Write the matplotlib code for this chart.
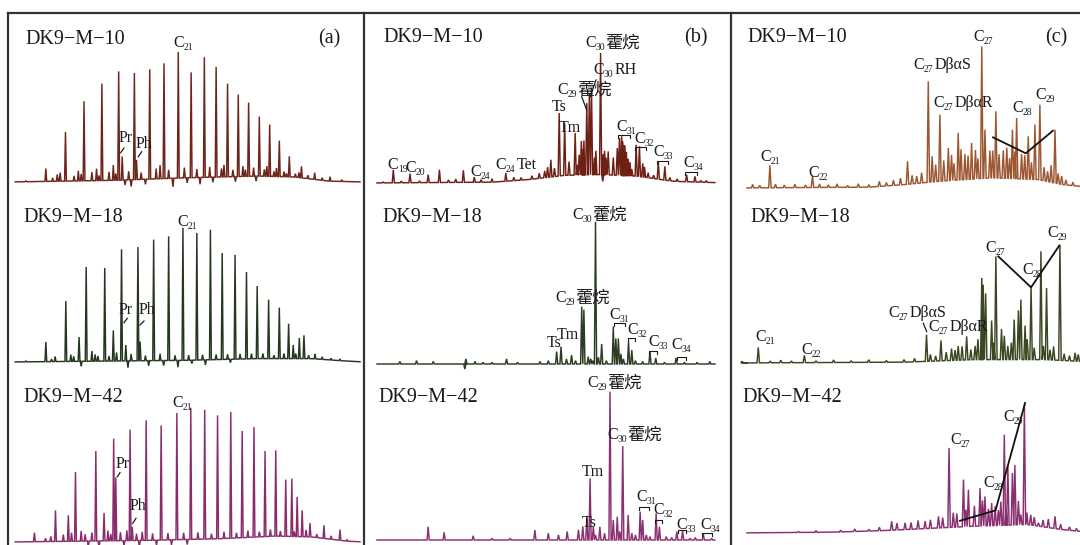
import numpy as np
import matplotlib
matplotlib.use("Agg")
import matplotlib.pyplot as plt

W, H = 1080, 545
SERIF = "Liberation Serif"
CJK = ["Noto Sans CJK SC", "DejaVu Sans"]
TC = "#1a1a1a"

# ---------------- data (retention position 0-100, relative abundance) --------------
# (a) saturated hydrocarbon TIC
a1_x = [10.6, 16.1, 21.3, 26.3, 31.0, 32.0, 35.4, 36.0, 39.7, 43.7, 47.7, 51.3, 55.0, 58.3, 61.5,
        64.5, 67.4, 70.4, 73.3, 76.0, 78.8, 82.2, 85.9, 90.2]
a1_h = [7.9, 29.4, 47.5, 57.9, 65.1, 15.0, 64.1, 13.0, 66.3, 69.8, 76.5, 64.5, 73.4, 67.7, 57.9,
        51.4, 46.7, 38.5, 33.8, 24.3, 15.1, 9.2, 5.5, 3.1]
a1_mx = [5, 12.5, 13.8, 14.6, 18.5, 19.7, 20.5, 23.5, 24.8, 25.5, 28.3, 29.5, 30.2, 32.8, 33.8, 34.5,
         37.3, 38.5, 41.5, 42.6, 45.0, 46.2, 49.4, 50.2, 52.9, 53.8, 56.5, 57.4, 59.8, 60.5, 63.0,
         63.7, 65.8, 66.5, 68.8, 69.5, 71.8, 72.5, 74.5, 75.2, 77.3, 78.0, 80.5, 81.5, 84.0, 88.0, 93.5]
a1_mh = [0.5, 2, 4, 5, 3, 6, 4, 5, 7, 3, 5, 9, 4, -3, 5, -4,
         4, -3, 6, 8, 5, -5, 6, -3, 5, -4, 6, -3, 5, 7, 4,
         -3, 6, 4, 5, -3, 4, 6, 3, 5, 3, 2, 2, 3, 2, 1.5, 1]
a1_hx = [0, 30, 50, 70, 80, 90, 100]
a1_hh = [0, 1, 2.5, 3.5, 3, 0.5, 0]

a2_x = [10.6, 16.2, 19.9, 21.9, 27.1, 29.5, 31.8, 33.0, 36.4, 37.0, 40.8, 45.0, 49.0, 52.9, 56.7,
        60.0, 63.6, 66.8, 69.8, 73.0, 76.0, 78.6, 79.9, 81.6, 82.9]
a2_h = [11.8, 35.9, 14.7, 55.9, 55.3, 18.6, 66.3, 10, 67.6, 12, 72.0, 73.9, 79.0, 75.9, 77.8,
        64.1, 63.1, 52.9, 44.7, 36.7, 32.0, 22.5, 10, 14.1, 15.7]
a2_mx = [5, 12.2, 13.2, 17.6, 18.4, 20.5, 23.5, 24.4, 25.2, 28.3, 30.4, 33.6, 34.5, 38.5, 39.4,
         42.6, 43.6, 46.8, 47.6, 50.6, 51.5, 54.5, 55.3, 58.3, 61.5, 62.3, 65.0, 68.2, 71.4, 74.5,
         77.3, 80.6, 84.2, 86.0, 88.0, 90.5, 93]
a2_mh = [0.5, 1.5, 3, 4, 3, -3, 6, 4, 3, 3, 5, -4, 4, 3, -3,
         4, -3, 3, -4, 3, -2, 3, -3, 3, 3, -2, 3, 3, 3, 2,
         3, 3, 2, 3, 1.5, 1, 1]
a2_hx = [0, 50, 70, 85, 95, 100]
a2_hh = [0, 1, 2, 2, 0.5, 0]

a3_x = [7.4, 13.3, 16.9, 18.9, 24.6, 26.9, 29.6, 30.2, 34.2, 34.8, 38.7, 42.9, 47.3, 51.2, 55.1,
        58.7, 62.4, 65.6, 68.9, 72.0, 75.0, 77.8, 79.5, 81.0, 82.4, 84.6, 88.5, 93.0]
a3_h = [5.5, 18.6, 15.7, 41.2, 53.5, 17.1, 60.8, 38, 66.1, 8.8, 71.6, 68.6, 75.9, 79.0, 77.8,
        74.5, 76.5, 65.3, 67.6, 53.5, 53.9, 36.7, 37.3, 26.5, 18.6, 11.2, 9.8, 7.3]
a3_mx = [10.5, 12, 15.5, 17.8, 20.5, 21.6, 22.5, 23.5, 25.5, 28.0, 28.8, 31.5, 32.5, 33.3, 36,
         36.8, 37.6, 40.5, 41.6, 44.8, 45.8, 49.2, 50.2, 53.2, 57.0, 60.5, 64, 67.2, 70.4, 73.5,
         76.3, 80.2, 83.5, 86.5, 90.5, 95]
a3_mh = [2, 3, 4, 5, 6, 4, -3, 5, -4, 6, 4, 5, -3, 6, 4,
         -4, 5, 4, -3, 4, -3, 4, -3, 4, 3, 4, 3, 4, 3, 4,
         3, 3, 4, 2, 2, 1]
a3_hx = [0, 40, 60, 75, 85, 95, 100]
a3_hh = [0, 1, 2, 3.5, 3, 0.5, 0]

# (b) terpanes m/z 191
b1_x = [7.8, 12.4, 17.4, 20.5, 27.1, 30.1, 38.8, 51.2, 53.5, 55.0, 57.9, 60.3, 61.1, 61.8, 62.4,
        64.9, 67.0, 68.4, 70.1, 70.7, 71.6, 74.7, 75.6, 80.8, 82.6, 88.6, 90.9]
b1_h = [7.8, 5.5, 4.9, 7.8, 7.5, 3.5, 5.9, 13.7, 41.2, 35.3, 29.4, 25, 47, 53, 56,
        76.5, 18.6, 15, 26.5, 27.5, 22, 22.5, 21.6, 12.7, 9.8, 4.9, 3.9]
b1_mx = [5, 10, 15, 23, 25, 32, 35, 41, 43, 46, 48, 49.5, 50.3, 52.2, 56.2, 58.5, 59.0, 59.6,
         60.0, 63.2, 63.6, 65.5, 65.6, 66.0, 66.4, 69.5, 71.0, 71.3, 72.0, 72.5, 73.0, 73.5,
         76.5, 77, 78, 79.5, 84, 86, 92.5, 94]
b1_mh = [0.5, 1, 1, 1.5, 2, 1.5, 2, 2, 1.5, 2, 3, 4, 6, 5, 8, 6, 12, 20,
         15, 10, 14, -4, 12, 14, 10, 16, 20, 18, 14, 10, 8, 4,
         8, 6, 3, 2, 2, 1.5, 1, 1]
b1_hx = [0, 35, 45, 55, 65, 75, 85, 100]
b1_hh = [0, 0.5, 2, 4.5, 5, 4, 1, 0]

b2_x = [52.8, 54.0, 56.9, 59.7, 60.3, 61.5, 63.5, 65.2, 68.4, 69.1, 69.8, 72.6, 73.5, 78.5, 80.1, 85.7]
b2_h = [7.3, 10.2, 5.3, 33.7, 32, 4.3, 83.7, 11.8, 22, 15, 15, 13.1, 8.2, 7.3, 3.5, 3.5]
b2_mx = [9.6, 14.2, 18.8, 27.5, 27.8, 30.3, 32.5, 35, 39.0, 42, 48.2, 50.5, 55.5, 58, 62.2, 62.8,
         64.3, 66.5, 70.5, 71.2, 74.5, 76.5, 82.5, 88, 91.5, 95]
b2_mh = [1.5, 2, 1.5, -3, 3, 1.5, 1, 1, 3, 1, 1.5, 2, 3, 2, 3, 2,
         4, 2, 6, 3, 2, 1.5, 1, 1, 1, 1.5]
b2_hx = [0, 100]
b2_hh = [0, 0]

b3_x = [61.1, 62.0, 62.9, 64.7, 67.5, 68.4, 69.5, 71.0, 72.5, 75.8, 76.5, 80.2, 81.1, 85.9, 87.5, 93.2]
b3_h = [12.7, 36.3, 7.8, 7.8, 87.3, 11.8, 13.7, 55.3, 14.7, 16.7, 11.8, 15.7, 7.8, 4.9, 5.5, 3.5]
b3_mx = [17.4, 21.8, 29.8, 35, 40, 46.8, 50.5, 53.3, 55.7, 58.8, 60.0, 63.5, 66, 70.2, 73.5,
         74.5, 77.5, 78.5, 83, 84.5, 89.5, 91, 95.5]
b3_mh = [7.8, 4.5, 2.5, 1, 1, 5.9, 4, 3, 5, 6, 8, 3, 4, 5, 4,
         3, 3, 2, 2, 1.5, 1, 1.5, 1]
b3_hx = [0, 100]
b3_hh = [0, 0]

# (c) steranes m/z 217
c1_x = [11.9, 24.0, 51.0, 53.6, 56.9, 58.0, 60.2, 62.6, 65.4, 67.3, 69.2, 72.1, 73.0, 74.4, 76.1,
        78.2, 80.8, 82.0, 83.4, 85.3, 87.2, 88.6, 92.9, 94.8]
c1_h = [13.3, 7.3, 15.7, 7, 62.7, 18.6, 43.1, 23.5, 32.4, 20, 26.5, 83.3, 34.3, 22, 45.1,
        22, 34.3, 41.2, 20, 30.4, 37.3, 49.0, 34.3, 7]
c1_mx = [7, 9, 13.5, 16, 19, 22, 26, 28.5, 31, 34, 37, 40, 43, 45, 47, 49, 52.3, 55, 59, 61.3,
         63.5, 64.2, 66.2, 68.2, 70.3, 71.0, 75.2, 77.0, 79.2, 80.0, 81.5, 84.3, 86.2, 89.8, 90.8,
         91.8, 93.8, 96, 98]
c1_mh = [2, 1.5, 2, 1.5, 2, 1.5, 2, 1.5, 2, 1, 2, 1.5, 3, 2, 3, 4, 5, 6, 10, 12,
         15, 10, 18, 14, 17, 12, 16, 14, 18, 12, 16, 14, 10, 8, 6,
         10, 6, 3, 2]
c1_hx = [0, 40, 50, 60, 75, 88, 95, 100]
c1_hh = [0, 0.5, 2, 4, 6, 5, 2, 1]

c2_x = [8.6, 21.7, 56.4, 60.5, 65.4, 67.8, 70.2, 72.1, 72.5, 73.2, 74.9, 76.1, 77.7, 81.3, 82.5,
        83.2, 84.4, 86.1, 88.9, 90.5, 94.3, 98.6]
c2_h = [9.2, 4.5, 16.7, 13.3, 10, 15.7, 10, 50, 46, 41, 25, 62.7, 20, 25.5, 31,
        37.3, 22, 45.1, 65.7, 44.1, 69.6, 6]
c2_mx = [4, 12, 15, 18, 25, 30, 35, 40, 45, 50, 53, 57.5, 59, 62, 63.5, 64.5, 66.5, 69, 71, 75.5,
         78.5, 79.5, 80.5, 85, 87, 89.6, 91.5, 92.5, 95.5, 97, 99.5]
c2_mh = [1, 1, 1.5, 1, 1, 1.5, 1, 1.5, 1, 1.5, 2, 4, 3, 5, 7, 6, 8, 6, 12, 10,
         14, 8, 10, 12, 7, 8, 6, 8, 4, 3, 4]
c2_hx = [0, 50, 70, 90, 100]
c2_hh = [0, 0.5, 2, 2, 1]

c3_x = [46.5, 50.3, 56.0, 59.8, 62.8, 64.0, 66.9, 68.3, 71.6, 73.0, 74.9, 75.9, 78.5, 79.5, 80.8,
        81.5, 84.2, 84.9, 88.2, 92.9]
c3_h = [6.9, 6, 7, 9.8, 50, 12, 31.4, 25.5, 26.5, 21.5, 17.6, 15.7, 57.8, 39.2, 35.3,
        40, 75.5, 12, 6, 9.8]
c3_mx = [20, 25, 32, 36, 40, 43, 48, 52, 54, 57.5, 61, 65, 67.6, 70, 72.3, 74, 76.8, 77.5, 79,
         82.5, 83.2, 86, 87, 89.5, 91, 94.5, 97, 99]
c3_mh = [0.5, 1, 1, 1.5, 1, 2, 4, 4, 5, 5, 6, 8, 10, 12, 15, 10, 9, 14, 10,
         14, 6, 6, 5, 4, 5, 3, 2, 1.5]
c3_hx = [0, 30, 45, 60, 70, 85, 95, 100]
c3_hh = [0, 0.5, 1.5, 3, 4, 5, 2, 1]

# sterane distribution guide lines (C27-C28-C29)
c1_vx = [75.3, 84.6, 92.3]
c1_vh = [29.8, 20.4, 33.7]
c2_vx = [76.8, 86.1, 94.1]
c2_vh = [62.7, 44.5, 69.0]
c3_vx = [65.9, 76.0, 84.4]
c3_vh = [7.2, 13.3, 76.5]

samples = ["DK9−M−10", "DK9−M−18", "DK9−M−42"]
panel_tags = ["(a)", "(b)", "(c)"]

# ---------------- layout ----------------
fig = plt.figure(figsize=(W / 100, H / 100), dpi=100)
fig.patch.set_facecolor("white")

col_geom = [(8, 357, 2.0, 98.6, 0.25), (365, 363, 3.3, 96.4, 0.3), (728, 352, 5.4, 100, 0.35)]
baselines = [[182, 183, 188], [362, 364, 363], [542, 540, 533]]
colors = [["#6e2519", "#6e2015", "#9c5630"],
          ["#25381f", "#2b3d22", "#3a4720"],
          ["#8a2c6c", "#8b3070", "#8a2f70"]]

traces = [
    [(a1_x, a1_h, a1_mx, a1_mh, a1_hx, a1_hh), (b1_x, b1_h, b1_mx, b1_mh, b1_hx, b1_hh),
     (c1_x, c1_h, c1_mx, c1_mh, c1_hx, c1_hh)],
    [(a2_x, a2_h, a2_mx, a2_mh, a2_hx, a2_hh), (b2_x, b2_h, b2_mx, b2_mh, b2_hx, b2_hh),
     (c2_x, c2_h, c2_mx, c2_mh, c2_hx, c2_hh)],
    [(a3_x, a3_h, a3_mx, a3_mh, a3_hx, a3_hh), (b3_x, b3_h, b3_mx, b3_mh, b3_hx, b3_hh),
     (c3_x, c3_h, c3_mx, c3_mh, c3_hx, c3_hh)],
]
vlines = [c1_vx, c2_vx, c3_vx]
vhts = [c1_vh, c2_vh, c3_vh]

SC = 1.7  # px per unit


def make_trace(mx, mh, nx, nh, hx, hh, w, xs0, xs1):
    base = lambda v: float(np.interp(v, hx, hh))
    pts = [(x, h, True) for x, h in zip(mx, mh)] + [(x, h, False) for x, h in zip(nx, nh)]
    pts.sort(key=lambda t: t[0])
    xs, ys = [xs0], [base(xs0)]
    for x, h, main in pts:
        b = base(x)
        top = max(h, b + 0.3) if main else b + h
        xs += [x - w, x, x + w]
        ys += [base(x - w), top, base(x + w)]
    xs.append(xs1)
    ys.append(base(xs1))
    return xs, ys


for r in range(3):
    for c in range(3):
        x0, wpx, xs0, xs1, w = col_geom[c]
        bpx = baselines[r][c]
        bot, top = bpx + 8, bpx - 170
        ax = fig.add_axes([x0 / W, 1 - bot / H, wpx / W, (bot - top) / H])
        ax.set_xlim(0, 100)
        ax.set_ylim(-8 / SC, 170 / SC)
        ax.axis("off")
        mx, mh, nx, nh, hx, hh = traces[r][c]
        xs, ys = make_trace(mx, mh, nx, nh, hx, hh, w, xs0, xs1)
        ax.plot(xs, ys, color=colors[r][c], lw=1.05, solid_joinstyle="miter", clip_on=False)
        if c == 2:
            ax.plot(vlines[r], vhts[r], color="#111111", lw=1.3, clip_on=False, zorder=3)

# overlay in pixel coordinates for frame and annotations
ov = fig.add_axes([0, 0, 1, 1], zorder=10)
ov.set_xlim(0, W)
ov.set_ylim(H, 0)
ov.axis("off")
ov.patch.set_alpha(0)

FC = "#333333"
ov.plot([8, W], [13, 13], color=FC, lw=1.6)
ov.plot([8, 8], [13, H], color=FC, lw=1.6)
ov.plot([364, 364], [13, H], color=FC, lw=1.6)
ov.plot([731, 731], [13, H], color=FC, lw=1.6)

# sample names and panel tags
name_pos = [[(25, 39), (383, 38), (747, 38)],
            [(23, 217), (382, 217), (750, 217)],
            [(23, 397), (378, 397), (742, 397)]]
for r in range(3):
    for c in range(3):
        x, y = name_pos[r][c]
        ov.text(x, y, samples[r], fontsize=14.5, family=SERIF, color=TC, va="center", ha="left")
for tag, (x, y) in zip(panel_tags, [(318, 39), (684, 38), (1045, 38)]):
    ov.text(x, y, tag, fontsize=14.5, family=SERIF, color=TC, va="center", ha="left")


def clabel(x, y, num, suffix="", cjk=False, fs=11.5):
    t = ov.text(x, y, "C", fontsize=fs, family=SERIF, va="center", ha="left", color=TC)
    s = ov.annotate(num, xy=(1, 0), xycoords=t, xytext=(0.2, -0.5), textcoords="offset points",
                    fontsize=fs * 0.6, family=SERIF, va="bottom", ha="left", color=TC)
    if suffix:
        ov.annotate(suffix, xy=(1, 0), xycoords=(s, t), xytext=(0.5, -0.8 if cjk else 0),
                    textcoords="offset points", fontsize=fs * (1.08 if cjk else 1.0),
                    family=CJK if cjk else SERIF, va="bottom", ha="left", color=TC)


def plain(x, y, s, fs=11.5):
    ov.text(x, y, s, fontsize=fs, family=SERIF, va="center", ha="left", color=TC)


def seg(x1, y1, x2, y2, lw=0.9):
    ov.plot([x1, x2], [y1, y2], color=TC, lw=lw)


def bracket(x1, x2, y):
    ov.plot([x1, x1, x2, x2], [y + 2.5, y, y, y + 2.5], color=TC, lw=0.8)


# (a)
clabel(173, 43, "21")
clabel(177, 222, "21")
clabel(172, 403, "21")
plain(119, 138, "Pr"); seg(120.7, 152.7, 124, 148)
plain(136, 144, "Ph"); seg(138.3, 156.7, 141.7, 151.7)
plain(119, 310, "Pr"); seg(124, 322.7, 127.3, 318.3)
plain(139, 310, "Ph"); seg(140, 325, 144, 321)
plain(116, 464, "Pr"); seg(117.3, 476.7, 120, 472.7)
plain(130, 506, "Ph"); seg(132.7, 523.3, 136, 518.3)

# (b)
HOP = "藿烷"
clabel(585, 43, "30", HOP, cjk=True)
clabel(593, 70, "30", "RH")
clabel(557, 90, "29", HOP, cjk=True)
seg(581.7, 96.7, 586.7, 110)
seg(596, 80, 590, 97)
plain(552, 107, "Ts")
plain(559, 128, "Tm")
clabel(616, 127, "31"); bracket(618, 630, 135)
clabel(634, 139, "32"); bracket(635, 646, 147)
clabel(653, 152, "33"); bracket(657, 668, 161)
clabel(683, 163, "34"); bracket(685, 697, 172)
clabel(387, 165, "19")
clabel(405, 168, "20")
clabel(470, 172, "24")
clabel(495, 165, "24", "Tet")

clabel(572, 215, "30", HOP, cjk=True)
clabel(555, 298, "29", HOP, cjk=True)
plain(557, 335, "Tm")
plain(547, 343, "Ts")
clabel(609, 315, "31"); bracket(614, 625, 323)
clabel(627, 330, "32"); bracket(628, 635, 338)
clabel(648, 342, "33"); bracket(649, 657, 351)
clabel(671, 345, "34"); bracket(677, 686, 357)

clabel(587, 383, "29", HOP, cjk=True)
clabel(607, 435, "30", HOP, cjk=True)
plain(582, 472, "Tm")
plain(582, 523, "Ts")
clabel(636, 497, "31"); bracket(639, 649, 507)
clabel(653, 510, "32"); bracket(655, 662, 520)
clabel(676, 525, "33"); bracket(678, 686, 530)
clabel(700, 525, "34"); bracket(702, 712, 533)

# (c)
clabel(973, 37, "27")
clabel(913, 65, "27", "DβαS")
clabel(933, 103, "27", "DβαR")
clabel(1012, 108, "28")
clabel(1035, 95, "29")
clabel(760, 157, "21")
clabel(808, 173, "22")

clabel(985, 248, "27")
clabel(1022, 270, "28")
clabel(1047, 233, "29")
clabel(888, 313, "27", "DβαS")
clabel(928, 327, "27", "DβαR")
seg(923.3, 323.3, 926.7, 331.7)
clabel(755, 337, "21")
clabel(801, 350, "22")

clabel(950, 440, "27")
clabel(983, 483, "28")
clabel(1003, 417, "29")

fig.savefig("out.png", dpi=100, facecolor="white")
